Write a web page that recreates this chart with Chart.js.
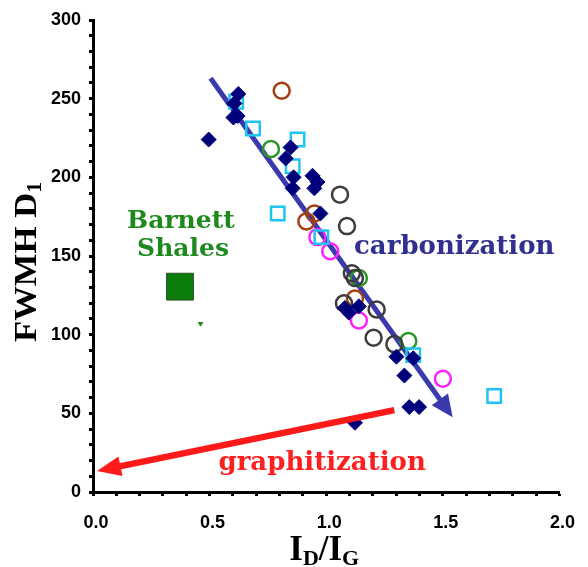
<!DOCTYPE html>
<html>
<head>
<meta charset="utf-8">
<script src="https://cdn.jsdelivr.net/npm/chart.js@4/dist/chart.umd.min.js"></script>
<style>
  html, body { margin: 0; padding: 0; background: #fff; }
  canvas { display: block; }
</style>
</head>
<body>
<canvas id="c" width="588" height="567"></canvas>
<script>
// ---- data ----
const navyDiamondX = [0.623, 0.606, 0.602, 0.620, 0.496, 0.847, 0.826, 0.860, 0.856, 0.941, 0.962, 0.949, 0.975, 1.097, 1.140, 1.080, 1.301, 1.335, 1.356, 1.398, 1.123, 1.373];
const navyDiamondY = [253, 247, 238, 239, 224, 219, 212, 200, 193, 201, 197, 193, 177, 114, 118, 117, 86, 74, 54, 54, 44, 85];

const cyanSquareX = [0.614, 0.686, 0.877, 0.856, 0.792, 0.979, 1.373, 1.720];
const cyanSquareY = [248, 231, 224, 207, 177, 162, 87, 61];

const grayCircleX = [1.059, 1.089, 1.110, 1.123, 1.076, 1.216, 1.203, 1.292];
const grayCircleY = [189, 169, 139, 136, 120, 116, 98, 94];

const brownCircleX = [0.809, 0.949, 0.915, 1.123];
const brownCircleY = [255, 177, 172, 123];

const greenCircleX = [0.763, 1.140, 1.352];
const greenCircleY = [218, 136, 96];

const magentaCircleX = [0.962, 1.017, 1.140, 1.500];
const magentaCircleY = [162, 153, 109, 72];

const barnettX = [0.373];
const barnettY = [130.5];
const smallMarkX = [0.461];
const smallMarkY = [107];

// arrows: [start, tip]
const carbonArrowX = [0.504, 1.542];
const carbonArrowY = [263, 47.5];
const graphArrowX = [1.292, 0.017];
const graphArrowY = [52, 13.3];

const xTickLabels = ['0.0', '0.5', '1.0', '1.5', '2.0'];
const yTickLabels = ['0', '50', '100', '150', '200', '250', '300'];

function pts(xs, ys) { return xs.map((x, i) => ({ x: x, y: ys[i] })); }

function drawArrow(chart, xs, ys, color, lw, headLen, headHalf) {
  const ctx = chart.ctx, sx = chart.scales.x, sy = chart.scales.y;
  const x0 = sx.getPixelForValue(xs[0]), y0 = sy.getPixelForValue(ys[0]);
  const x1 = sx.getPixelForValue(xs[1]), y1 = sy.getPixelForValue(ys[1]);
  const dx = x1 - x0, dy = y1 - y0, L = Math.hypot(dx, dy);
  const ux = dx / L, uy = dy / L;
  const bx = x1 - ux * headLen, by = y1 - uy * headLen;
  ctx.save();
  ctx.strokeStyle = color; ctx.fillStyle = color; ctx.lineWidth = lw; ctx.lineCap = 'butt';
  ctx.beginPath(); ctx.moveTo(x0, y0); ctx.lineTo(bx + ux * 2, by + uy * 2); ctx.stroke();
  ctx.beginPath();
  ctx.moveTo(x1, y1);
  ctx.lineTo(bx - uy * headHalf, by + ux * headHalf);
  ctx.lineTo(bx + uy * headHalf, by - ux * headHalf);
  ctx.closePath(); ctx.fill();
  ctx.restore();
}

function drawText(chart, text, vx, vy, font, color, align) {
  const ctx = chart.ctx;
  ctx.save();
  ctx.font = font; ctx.fillStyle = color; ctx.textAlign = align; ctx.textBaseline = 'alphabetic';
  ctx.fillText(text, chart.scales.x.getPixelForValue(vx), chart.scales.y.getPixelForValue(vy));
  ctx.restore();
}

const annotPlugin = {
  id: 'annot',
  beforeDatasetsDraw(chart) {
    drawArrow(chart, carbonArrowX, carbonArrowY, '#3a3aae', 5, 22, 10);
  },
  afterDatasetsDraw(chart) {
    drawArrow(chart, graphArrowX, graphArrowY, '#ff1a1a', 6.5, 24, 10);
    drawText(chart, 'carbonization', 1.119, 151.5, 'bold 26px "DejaVu Serif"', '#30308f', 'left');
    drawText(chart, 'graphitization', 0.538, 13.9, 'bold 26px "DejaVu Serif"', '#ff1f1f', 'left');
    drawText(chart, 'Barnett', 0.377, 168, 'bold 25px "DejaVu Serif"', '#1e8a1e', 'center');
    drawText(chart, 'Shales', 0.386, 150.2, 'bold 25px "DejaVu Serif"', '#1e8a1e', 'center');
  },
  afterDraw(chart) {
    const ctx = chart.ctx, ca = chart.chartArea;
    // x-axis title: I_D / I_G
    ctx.save();
    ctx.fillStyle = '#000'; ctx.textBaseline = 'alphabetic';
    const big = 'bold 35px "Liberation Serif"', small = 'bold 22px "Liberation Serif"';
    const parts = [['I', big, 0], ['D', small, 5], ['/', big, 0], ['I', big, 0], ['G', small, 5]];
    let tw = 0;
    parts.forEach(p => { ctx.font = p[1]; tw += ctx.measureText(p[0]).width; });
    let x = (ca.left + ca.right) / 2 - 2 - tw / 2;
    const base = chart.height - 7;
    parts.forEach(p => { ctx.font = p[1]; ctx.fillText(p[0], x, base + p[2]); x += ctx.measureText(p[0]).width; });
    ctx.restore();
    // y-axis title: FWMH D_1 (rotated)
    ctx.save();
    ctx.translate(36, (ca.top + ca.bottom) / 2 + 6);
    ctx.rotate(-Math.PI / 2);
    ctx.fillStyle = '#000'; ctx.textBaseline = 'alphabetic';
    const yb = 'bold 32px "Liberation Serif"', ys = 'bold 20px "Liberation Serif"';
    ctx.font = yb; const w1 = ctx.measureText('FWMH D').width;
    ctx.font = ys; const w2 = ctx.measureText('1').width;
    const total = w1 + w2, target = 160;
    ctx.scale(target / total, 1);
    ctx.font = yb; ctx.fillText('FWMH D', -total / 2, 0);
    ctx.font = ys; ctx.fillText('1', -total / 2 + w1, 5);
    ctx.restore();
  }
};

const tickFont = { family: '"Liberation Sans", Arial, sans-serif', weight: 'bold', size: 18 };

new Chart(document.getElementById('c'), {
  type: 'scatter',
  data: {
    datasets: [
      { label: 'diamonds', data: pts(navyDiamondX, navyDiamondY), pointStyle: 'rectRot', pointRadius: 7.5,
        backgroundColor: '#00007a', borderColor: '#00007a', borderWidth: 1 },
      { label: 'squares', data: pts(cyanSquareX, cyanSquareY), pointStyle: 'rect', pointRadius: 9.5,
        backgroundColor: 'rgba(0,0,0,0)', borderColor: '#1ec4f2', borderWidth: 2.5 },
      { label: 'gray', data: pts(grayCircleX, grayCircleY), pointStyle: 'circle', pointRadius: 8,
        backgroundColor: 'rgba(0,0,0,0)', borderColor: '#3c3c3c', borderWidth: 2.5 },
      { label: 'brown', data: pts(brownCircleX, brownCircleY), pointStyle: 'circle', pointRadius: 8,
        backgroundColor: 'rgba(0,0,0,0)', borderColor: '#a3400f', borderWidth: 2.5 },
      { label: 'green', data: pts(greenCircleX, greenCircleY), pointStyle: 'circle', pointRadius: 8,
        backgroundColor: 'rgba(0,0,0,0)', borderColor: '#2a962a', borderWidth: 2.5 },
      { label: 'magenta', data: pts(magentaCircleX, magentaCircleY), pointStyle: 'circle', pointRadius: 8,
        backgroundColor: 'rgba(0,0,0,0)', borderColor: '#ff22ff', borderWidth: 2.5 },
      { label: 'Barnett', data: pts(barnettX, barnettY), pointStyle: 'rect', pointRadius: 19,
        backgroundColor: '#0a7d0a', borderColor: '#2f4f2f', borderWidth: 1 },
      { label: 'mark', data: pts(smallMarkX, smallMarkY), pointStyle: 'triangle', rotation: 180, pointRadius: 2.5,
        backgroundColor: '#1e8a1e', borderColor: '#1e8a1e', borderWidth: 1 }
    ]
  },
  options: {
    responsive: false,
    animation: false,
    events: [],
    layout: { padding: { top: 18, right: 23, left: 0, bottom: 0 } },
    plugins: { legend: { display: false }, tooltip: { enabled: false } },
    scales: {
      x: {
        type: 'linear', min: 0, max: 2,
        afterFit(s) { s.height = 75; },
        border: { display: true, color: '#000', width: 3 },
        grid: { display: true, drawOnChartArea: false, drawTicks: true, tickLength: 4, tickWidth: 3, tickColor: '#000' },
        ticks: {
          stepSize: 0.1, autoSkip: false, maxRotation: 0, padding: 16, labelOffset: 3,
          color: '#000', font: tickFont,
          callback(v) {
            const k = Math.round(v * 2);
            return Math.abs(v * 2 - k) < 1e-6 ? xTickLabels[k] : '';
          }
        }
      },
      y: {
        type: 'linear', min: 0, max: 300,
        afterFit(s) { s.width = 93; },
        border: { display: true, color: '#000', width: 3 },
        grid: { display: true, drawOnChartArea: false, drawTicks: true, tickLength: 4, tickWidth: 3, tickColor: '#000' },
        ticks: {
          stepSize: 10, autoSkip: false, padding: 8,
          color: '#000', font: tickFont,
          callback(v) {
            const k = Math.round(v / 50);
            return Math.abs(v - k * 50) < 1e-6 ? yTickLabels[k] : '';
          }
        }
      }
    }
  },
  plugins: [annotPlugin]
});
</script>
</body>
</html>
